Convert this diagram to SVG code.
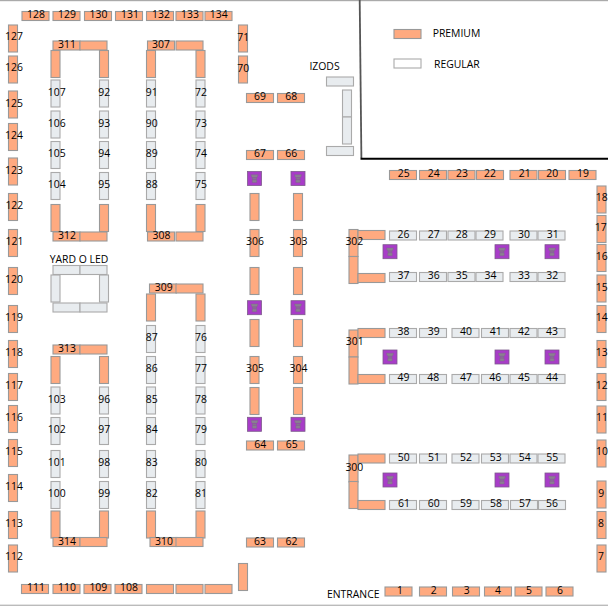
<svg xmlns="http://www.w3.org/2000/svg" width="608" height="606" viewBox="0 0 608 606">
<style>
text{font-family:"Open Sans","Noto Sans","Liberation Sans",sans-serif;font-size:10.4px;fill:#000;text-anchor:middle}
text.l{text-anchor:start}
.p{fill:#ffaa80;stroke:#999;stroke-width:1.1}
.r{fill:#e8ecef;stroke:#aaa;stroke-width:1.1}
.w{fill:#fff;stroke:#aaa;stroke-width:1.1}
</style>
<defs>
<rect id="ph" class="p" width="27" height="9"/>
<rect id="pv" class="p" width="9" height="27"/>
<rect id="rh" class="r" width="27" height="9"/>
<rect id="rv" class="r" width="9" height="27"/>
<g id="bin"><rect width="14" height="14" fill="#a83cc8" stroke="#7d5a8c" stroke-width="0.8"/><path d="M3.4 3.2h7.2l-1 2.8h-5.2zM5 6.6h4v1.1h-4zM4.8 8.3h4.4v2.7h-4.4z" fill="#8b7f92" stroke="#7a6a84" stroke-width="0.4"/></g>
</defs>
<g id="walls" fill="none">
<rect x="0" y="0" width="608" height="1.2" fill="#aaa"/>
<rect x="0" y="604.6" width="608" height="1.4" fill="#bbb"/>
<path d="M359.7 0L361.4 158" stroke="#555" stroke-width="1.8"/>
<path d="M360.5 158.7H608" stroke="#000" stroke-width="2"/>
</g>
<g id="legend">
<use href="#ph" x="394" y="29.5"/><text class="l" x="432.7" y="37">PREMIUM</text>
<rect class="w" x="394" y="59" width="27" height="9"/><text class="l" x="434" y="68">REGULAR</text>
</g>
<g id="b128"><use href="#ph" x="22" y="11.5"/><text x="36" y="18">128</text></g>
<g id="b129"><use href="#ph" x="53" y="11.5"/><text x="67" y="18">129</text></g>
<g id="b130"><use href="#ph" x="84.5" y="11.5"/><text x="98.5" y="18">130</text></g>
<g id="b131"><use href="#ph" x="115.5" y="11.5"/><text x="130" y="18">131</text></g>
<g id="b132"><use href="#ph" x="146.5" y="11.5"/><text x="161" y="18">132</text></g>
<g id="b133"><use href="#ph" x="176" y="11.5"/><text x="190" y="18">133</text></g>
<g id="b134"><use href="#ph" x="205" y="11.5"/><text x="218.7" y="18">134</text></g>
<g id="b127"><use href="#pv" x="8.5" y="25"/><text x="14" y="40">127</text></g>
<g id="b126"><use href="#pv" x="8.5" y="56"/><text x="14" y="71">126</text></g>
<g id="b125"><use href="#pv" x="8.5" y="91"/><text x="14" y="106.6">125</text></g>
<g id="b124"><use href="#pv" x="8.5" y="123.5"/><text x="14" y="139">124</text></g>
<g id="b123"><use href="#pv" x="8.5" y="158"/><text x="14" y="173.6">123</text></g>
<g id="b122"><use href="#pv" x="8.5" y="193.5"/><text x="14.3" y="208.6">122</text></g>
<g id="b121"><use href="#pv" x="8.5" y="229.5"/><text x="14.5" y="245">121</text></g>
<g id="b120"><use href="#pv" x="8.5" y="267.5"/><text x="14" y="283">120</text></g>
<g id="b119"><use href="#pv" x="8.5" y="305.5"/><text x="14" y="320.6">119</text></g>
<g id="b118"><use href="#pv" x="8.5" y="340.5"/><text x="14" y="355.6">118</text></g>
<g id="b117"><use href="#pv" x="8.5" y="373.5"/><text x="14" y="389">117</text></g>
<g id="b116"><use href="#pv" x="8.5" y="405.5"/><text x="14" y="421">116</text></g>
<g id="b115"><use href="#pv" x="8.5" y="439.5"/><text x="14" y="455">115</text></g>
<g id="b114"><use href="#pv" x="8.5" y="474.5"/><text x="14" y="490">114</text></g>
<g id="b113"><use href="#pv" x="8.5" y="511.5"/><text x="14" y="527">113</text></g>
<g id="b112"><use href="#pv" x="8.5" y="545"/><text x="14" y="560">112</text></g>
<g id="b111"><use href="#ph" x="21.5" y="584.5"/><text x="36" y="591">111</text></g>
<g id="b110"><use href="#ph" x="53" y="584.5"/><text x="67" y="591">110</text></g>
<g id="b109"><use href="#ph" x="84" y="584.5"/><text x="98.3" y="591">109</text></g>
<g id="b108"><use href="#ph" x="115" y="584.5"/><text x="129" y="591">108</text></g>
<g id="bb1"><use href="#ph" x="146.5" y="584.5"/></g>
<g id="bb2"><use href="#ph" x="176" y="584.5"/></g>
<g id="bb3"><use href="#ph" x="205" y="584.5"/></g>
<g id="b311"><use href="#ph" x="53" y="41"/><use href="#ph" x="80" y="41"/><text x="67" y="48">311</text></g>
<g id="b311l"><use href="#pv" x="51" y="50.5"/></g>
<g id="b311r"><use href="#pv" x="99.5" y="50.5"/></g>
<g id="b107"><use href="#rv" x="51" y="80"/><text x="56.7" y="95.6">107</text></g>
<g id="b106"><use href="#rv" x="51" y="111"/><text x="56.7" y="126.6">106</text></g>
<g id="b105"><use href="#rv" x="51" y="141.5"/><text x="56.7" y="157">105</text></g>
<g id="b104"><use href="#rv" x="51" y="172.5"/><text x="56.7" y="188">104</text></g>
<g id="b92"><use href="#rv" x="99.5" y="80"/><text x="104.3" y="95.6">92</text></g>
<g id="b93"><use href="#rv" x="99.5" y="111"/><text x="104.3" y="126.6">93</text></g>
<g id="b94"><use href="#rv" x="99.5" y="141.5"/><text x="104.3" y="157">94</text></g>
<g id="b95"><use href="#rv" x="99.5" y="172.5"/><text x="104.3" y="188">95</text></g>
<g id="b312l"><use href="#pv" x="51" y="204.5"/></g>
<g id="b312r"><use href="#pv" x="99.5" y="204.5"/></g>
<g id="b312"><use href="#ph" x="53" y="232"/><use href="#ph" x="80" y="232"/><text x="67" y="239">312</text></g>
<g id="b307"><use href="#ph" x="147.5" y="41"/><use href="#ph" x="176" y="41"/><text x="161" y="48">307</text></g>
<g id="b307l"><use href="#pv" x="146.5" y="50.5"/></g>
<g id="b307r"><use href="#pv" x="196" y="50.5"/></g>
<g id="b91"><use href="#rv" x="146.5" y="80"/><text x="151.7" y="95.6">91</text></g>
<g id="b90"><use href="#rv" x="146.5" y="111"/><text x="151.7" y="126.6">90</text></g>
<g id="b89"><use href="#rv" x="146.5" y="141.5"/><text x="151.7" y="157">89</text></g>
<g id="b88"><use href="#rv" x="146.5" y="172.5"/><text x="151.7" y="188">88</text></g>
<g id="b72"><use href="#rv" x="196" y="80"/><text x="201" y="95.6">72</text></g>
<g id="b73"><use href="#rv" x="196" y="111"/><text x="201" y="126.6">73</text></g>
<g id="b74"><use href="#rv" x="196" y="141.5"/><text x="201" y="157">74</text></g>
<g id="b75"><use href="#rv" x="196" y="172.5"/><text x="201" y="188">75</text></g>
<g id="b308l"><use href="#pv" x="146.5" y="204.5"/></g>
<g id="b308r"><use href="#pv" x="196" y="204.5"/></g>
<g id="b308"><use href="#ph" x="147.5" y="232"/><use href="#ph" x="176" y="232"/><text x="161.5" y="239">308</text></g>
<g id="yard">
<text x="79" y="263.3">YARD O LED</text>
<use href="#rh" x="53" y="265.5"/><use href="#rh" x="80" y="265.5"/>
<use href="#rv" x="51" y="275"/><use href="#rv" x="99.5" y="275"/>
<use href="#rh" x="53" y="303"/><use href="#rh" x="80" y="303"/>
</g>
<g id="b313"><use href="#ph" x="53" y="345"/><use href="#ph" x="80" y="345"/><text x="67" y="352">313</text></g>
<g id="b313l"><use href="#pv" x="51" y="356.5"/></g>
<g id="b313r"><use href="#pv" x="99.5" y="356.5"/></g>
<g id="b103"><use href="#rv" x="51" y="387"/><text x="56.7" y="403">103</text></g>
<g id="b102"><use href="#rv" x="51" y="417.5"/><text x="56.7" y="433">102</text></g>
<g id="b101"><use href="#rv" x="51" y="450.5"/><text x="56.7" y="466">101</text></g>
<g id="b100"><use href="#rv" x="51" y="481.5"/><text x="56.7" y="496.6">100</text></g>
<g id="b96"><use href="#rv" x="99.5" y="387"/><text x="104.3" y="403">96</text></g>
<g id="b97"><use href="#rv" x="99.5" y="417.5"/><text x="104.3" y="433">97</text></g>
<g id="b98"><use href="#rv" x="99.5" y="450.5"/><text x="104.3" y="466">98</text></g>
<g id="b99"><use href="#rv" x="99.5" y="481.5"/><text x="104.3" y="496.6">99</text></g>
<g id="b314l"><use href="#pv" x="51" y="511"/></g>
<g id="b314r"><use href="#pv" x="99.5" y="511"/></g>
<g id="b314"><use href="#ph" x="53" y="537.5"/><use href="#ph" x="80" y="537.5"/><text x="67" y="544.7">314</text></g>
<g id="b309"><use href="#ph" x="149.5" y="284"/><use href="#ph" x="176" y="284"/><text x="163.7" y="290.6">309</text></g>
<g id="b309l"><use href="#pv" x="146.5" y="294"/></g>
<g id="b309r"><use href="#pv" x="196" y="294"/></g>
<g id="b87"><use href="#rv" x="146.5" y="325.5"/><text x="151.7" y="341">87</text></g>
<g id="b86"><use href="#rv" x="146.5" y="356.5"/><text x="151.7" y="372">86</text></g>
<g id="b85"><use href="#rv" x="146.5" y="387"/><text x="151.7" y="403">85</text></g>
<g id="b84"><use href="#rv" x="146.5" y="417.5"/><text x="151.7" y="433">84</text></g>
<g id="b83"><use href="#rv" x="146.5" y="450.5"/><text x="151.7" y="466">83</text></g>
<g id="b82"><use href="#rv" x="146.5" y="481.5"/><text x="151.7" y="496.6">82</text></g>
<g id="b76"><use href="#rv" x="196" y="325.5"/><text x="201" y="341">76</text></g>
<g id="b77"><use href="#rv" x="196" y="356.5"/><text x="201" y="372">77</text></g>
<g id="b78"><use href="#rv" x="196" y="387"/><text x="201" y="403">78</text></g>
<g id="b79"><use href="#rv" x="196" y="417.5"/><text x="201" y="433">79</text></g>
<g id="b80"><use href="#rv" x="196" y="450.5"/><text x="201" y="466">80</text></g>
<g id="b81"><use href="#rv" x="196" y="481.5"/><text x="201" y="496.6">81</text></g>
<g id="b310l"><use href="#pv" x="146.5" y="511"/></g>
<g id="b310r"><use href="#pv" x="196" y="511"/></g>
<g id="b310"><use href="#ph" x="150" y="537.5"/><use href="#ph" x="176" y="537.5"/><text x="164" y="544.7">310</text></g>
<g id="b71"><use href="#pv" x="238.5" y="25"/><text x="243.3" y="40.5">71</text></g>
<g id="b70"><use href="#pv" x="238.5" y="56"/><text x="243.3" y="71.5">70</text></g>
<g id="bb4"><use href="#pv" x="238.5" y="563.5"/></g>
<g id="b69"><use href="#ph" x="246.5" y="93.5"/><text x="260" y="100">69</text></g>
<g id="b68"><use href="#ph" x="277.5" y="93.5"/><text x="291.3" y="100">68</text></g>
<g id="b67"><use href="#ph" x="246.5" y="150.5"/><text x="260" y="157.3">67</text></g>
<g id="b66"><use href="#ph" x="277.5" y="150.5"/><text x="291.3" y="157.3">66</text></g>
<g id="b64"><use href="#ph" x="246.5" y="441"/><text x="260.3" y="448.3">64</text></g>
<g id="b65"><use href="#ph" x="277.5" y="441"/><text x="291.7" y="448.3">65</text></g>
<g id="b63"><use href="#ph" x="246.5" y="538"/><text x="260" y="544.7">63</text></g>
<g id="b62"><use href="#ph" x="277.5" y="538"/><text x="291.5" y="544.7">62</text></g>
<g id="c1"><use href="#pv" x="250" y="193.5"/></g>
<g id="b306"><use href="#pv" x="250" y="229.5"/><text x="255" y="245">306</text></g>
<g id="c2"><use href="#pv" x="250" y="267.5"/></g>
<g id="c3"><use href="#pv" x="250" y="319.5"/></g>
<g id="b305"><use href="#pv" x="250" y="356.5"/><text x="255" y="372">305</text></g>
<g id="c4"><use href="#pv" x="250" y="387.5"/></g>
<g id="d1"><use href="#pv" x="293.5" y="193.5"/></g>
<g id="b303"><use href="#pv" x="293.5" y="229.5"/><text x="298.5" y="245">303</text></g>
<g id="d2"><use href="#pv" x="293.5" y="267.5"/></g>
<g id="d3"><use href="#pv" x="293.5" y="319.5"/></g>
<g id="b304"><use href="#pv" x="293.5" y="356.5"/><text x="298.5" y="372">304</text></g>
<g id="d4"><use href="#pv" x="293.5" y="387.5"/></g>
<g id="bins">
<use href="#bin" x="247.5" y="171.5"/><use href="#bin" x="291" y="171.5"/>
<use href="#bin" x="247.5" y="300.7"/><use href="#bin" x="291" y="300.7"/>
<use href="#bin" x="247.5" y="417.3"/><use href="#bin" x="291" y="417.3"/>
<use href="#bin" x="383" y="244.7"/><use href="#bin" x="495" y="244.7"/><use href="#bin" x="545" y="244.7"/>
<use href="#bin" x="383" y="350"/><use href="#bin" x="495" y="350"/><use href="#bin" x="545" y="350"/>
<use href="#bin" x="383" y="473"/><use href="#bin" x="495" y="473"/><use href="#bin" x="545" y="473"/>
</g>
<g id="izods">
<text x="324.5" y="69.6">IZODS</text>
<use href="#rh" x="326.5" y="77"/>
<use href="#rv" x="342.5" y="90"/><use href="#rv" x="342.5" y="117"/>
<use href="#rh" x="326.5" y="146.5"/>
</g>
<g id="b25"><use href="#ph" x="389.5" y="170.5"/><text x="403.7" y="177">25</text></g>
<g id="b24"><use href="#ph" x="419.5" y="170.5"/><text x="433.7" y="177">24</text></g>
<g id="b23"><use href="#ph" x="448" y="170.5"/><text x="462" y="177">23</text></g>
<g id="b22"><use href="#ph" x="476.5" y="170.5"/><text x="490" y="177">22</text></g>
<g id="b21"><use href="#ph" x="510" y="170.5"/><text x="524.7" y="177">21</text></g>
<g id="b20"><use href="#ph" x="538.5" y="170.5"/><text x="552.3" y="177">20</text></g>
<g id="b19"><use href="#ph" x="569" y="170.5"/><text x="583" y="177">19</text></g>
<g id="b18"><use href="#pv" x="597" y="186"/><text x="601.7" y="201">18</text></g>
<g id="b17"><use href="#pv" x="597" y="215.5"/><text x="600.7" y="231">17</text></g>
<g id="b16"><use href="#pv" x="597" y="244.5"/><text x="601.7" y="260">16</text></g>
<g id="b15"><use href="#pv" x="597" y="275"/><text x="601.7" y="291">15</text></g>
<g id="b14"><use href="#pv" x="597" y="305.5"/><text x="601.7" y="321">14</text></g>
<g id="b13"><use href="#pv" x="597" y="340.5"/><text x="601.7" y="356">13</text></g>
<g id="b12"><use href="#pv" x="597" y="373.5"/><text x="601.7" y="389">12</text></g>
<g id="b11"><use href="#pv" x="597" y="406"/><text x="602" y="421">11</text></g>
<g id="b10"><use href="#pv" x="597" y="440"/><text x="602" y="455">10</text></g>
<g id="b9"><use href="#pv" x="597" y="481"/><text x="601.3" y="497">9</text></g>
<g id="b8"><use href="#pv" x="597" y="511.5"/><text x="601" y="527">8</text></g>
<g id="b7"><use href="#pv" x="597" y="545"/><text x="601" y="560">7</text></g>
<g id="b302"><use href="#pv" x="349" y="229.5"/><use href="#pv" x="349" y="256.5"/><use href="#ph" x="358" y="230.5"/><use href="#ph" x="358" y="273.5"/><text x="354.3" y="245">302</text></g>
<g id="b26"><use href="#rh" x="389.5" y="231"/><text x="403.5" y="237.6">26</text></g>
<g id="b27"><use href="#rh" x="419.5" y="231"/><text x="433.7" y="237.6">27</text></g>
<g id="b28"><use href="#rh" x="448" y="231"/><text x="461.7" y="237.6">28</text></g>
<g id="b29"><use href="#rh" x="476" y="231"/><text x="490" y="237.6">29</text></g>
<g id="b30"><use href="#rh" x="510" y="231"/><text x="524" y="237.6">30</text></g>
<g id="b31"><use href="#rh" x="538" y="231"/><text x="552.7" y="237.6">31</text></g>
<g id="b37"><use href="#rh" x="389.5" y="272.5"/><text x="403.5" y="279">37</text></g>
<g id="b36"><use href="#rh" x="419.5" y="272.5"/><text x="433.7" y="279">36</text></g>
<g id="b35"><use href="#rh" x="448" y="272.5"/><text x="461.7" y="279">35</text></g>
<g id="b34"><use href="#rh" x="476" y="272.5"/><text x="490.5" y="279">34</text></g>
<g id="b33"><use href="#rh" x="510" y="272.5"/><text x="524" y="279">33</text></g>
<g id="b32"><use href="#rh" x="538" y="272.5"/><text x="552.3" y="279">32</text></g>
<g id="b301"><use href="#pv" x="349" y="330"/><use href="#pv" x="349" y="357"/><use href="#ph" x="358" y="328.5"/><use href="#ph" x="358" y="374.5"/><text x="354.7" y="345">301</text></g>
<g id="b38"><use href="#rh" x="389.5" y="328.5"/><text x="403.5" y="335.3">38</text></g>
<g id="b39"><use href="#rh" x="419.5" y="328.5"/><text x="433.7" y="335.3">39</text></g>
<g id="b40"><use href="#rh" x="452" y="328.5"/><text x="466" y="335.3">40</text></g>
<g id="b41"><use href="#rh" x="481.5" y="328.5"/><text x="495.7" y="335.3">41</text></g>
<g id="b42"><use href="#rh" x="510" y="328.5"/><text x="524" y="335.3">42</text></g>
<g id="b43"><use href="#rh" x="538" y="328.5"/><text x="552" y="335.3">43</text></g>
<g id="b49"><use href="#rh" x="389.5" y="374.5"/><text x="403.5" y="381.3">49</text></g>
<g id="b48"><use href="#rh" x="419.5" y="374.5"/><text x="433.3" y="381.3">48</text></g>
<g id="b47"><use href="#rh" x="452" y="374.5"/><text x="466" y="381.3">47</text></g>
<g id="b46"><use href="#rh" x="481.5" y="374.5"/><text x="495.3" y="381.3">46</text></g>
<g id="b45"><use href="#rh" x="510" y="374.5"/><text x="524" y="381.3">45</text></g>
<g id="b44"><use href="#rh" x="538" y="374.5"/><text x="552" y="381.3">44</text></g>
<g id="b300"><use href="#pv" x="349" y="455"/><use href="#pv" x="349" y="481.5"/><use href="#ph" x="358" y="454"/><use href="#ph" x="358" y="500.5"/><text x="354.3" y="470.6">300</text></g>
<g id="b50"><use href="#rh" x="389.5" y="454"/><text x="403.7" y="461">50</text></g>
<g id="b51"><use href="#rh" x="419.5" y="454"/><text x="434" y="461">51</text></g>
<g id="b52"><use href="#rh" x="452" y="454"/><text x="466" y="461">52</text></g>
<g id="b53"><use href="#rh" x="481.5" y="454"/><text x="495.7" y="461">53</text></g>
<g id="b54"><use href="#rh" x="510" y="454"/><text x="524.7" y="461">54</text></g>
<g id="b55"><use href="#rh" x="538" y="454"/><text x="552.3" y="461">55</text></g>
<g id="b61"><use href="#rh" x="389.5" y="500.5"/><text x="404" y="507">61</text></g>
<g id="b60"><use href="#rh" x="419.5" y="500.5"/><text x="433.7" y="507">60</text></g>
<g id="b59"><use href="#rh" x="452" y="500.5"/><text x="466" y="507">59</text></g>
<g id="b58"><use href="#rh" x="481.5" y="500.5"/><text x="496" y="507">58</text></g>
<g id="b57"><use href="#rh" x="510.5" y="500.5"/><text x="525" y="507">57</text></g>
<g id="b56"><use href="#rh" x="538.5" y="500.5"/><text x="552" y="507">56</text></g>
<text class="l" x="327" y="597.6">ENTRANCE</text>
<g id="b1"><use href="#ph" x="385" y="587"/><text x="400" y="593.6">1</text></g>
<g id="b2"><use href="#ph" x="419.5" y="587"/><text x="433.7" y="593.6">2</text></g>
<g id="b3"><use href="#ph" x="452.5" y="587"/><text x="466.7" y="593.6">3</text></g>
<g id="b4"><use href="#ph" x="484.5" y="587"/><text x="498" y="593.6">4</text></g>
<g id="b5"><use href="#ph" x="515" y="587"/><text x="529" y="593.6">5</text></g>
<g id="b6"><use href="#ph" x="546" y="587"/><text x="560" y="593.6">6</text></g>
</svg>
